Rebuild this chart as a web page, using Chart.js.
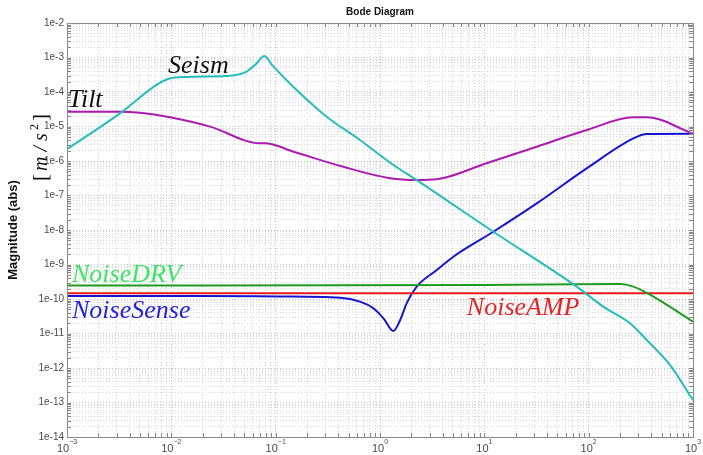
<!DOCTYPE html>
<html>
<head>
<meta charset="utf-8">
<script src="https://cdn.jsdelivr.net/npm/chart.js@4.4.0/dist/chart.umd.min.js"></script>
<style>
html, body { margin: 0; padding: 0; background: #fff; }
</style>
</head>
<body>
<canvas id="chartBode" width="703" height="455"></canvas>
<script>
// values (Hz, m/s^2)
const seismFreq = [1e-3, 3.22e-3, 7.8e-3, 1.04e-2, 3.4e-2, 5.27e-2, 6.58e-2, 7.78e-2, 9.3e-2, 0.148, 0.308, 0.643, 1.25, 2.25, 12.2, 76.7, 138, 249, 360, 601, 1000];
const seismMag = [2.2e-6, 2.4e-5, 1.86e-4, 2.6e-4, 2.9e-4, 3.9e-4, 6.8e-4, 1.1e-3, 5.9e-4, 1.4e-4, 1.92e-5, 4.06e-6, 8.9e-7, 2.8e-7, 8.9e-9, 2.28e-10, 6.0e-11, 1.98e-11, 6.5e-12, 1.23e-12, 1.17e-13];

const tiltFreq = [1e-3, 3.22e-3, 5e-3, 9.7e-3, 2.35e-2, 7.08e-2, 7.9e-2, 0.148, 0.445, 1.25, 2.25, 3.5, 10.5, 31.8, 95.7, 268, 360, 1000];
const tiltMag = [2.69e-5, 2.69e-5, 2.5e-5, 1.85e-5, 9.9e-6, 3.26e-6, 3.26e-6, 1.86e-6, 6.8e-7, 3.16e-7, 2.81e-7, 2.95e-7, 8.6e-7, 2.6e-6, 7.9e-6, 1.85e-5, 1.85e-5, 6.2e-6];

const senseFreq = [1e-3, 1.88e-2, 0.110, 0.414, 0.643, 0.863, 1.08, 1.34, 1.56, 1.80, 2.25, 3.5, 5.05, 12.2, 31.8, 95.7, 268, 360, 1000];
const senseMag = [1.22e-10, 1.22e-10, 1.18e-10, 1.09e-10, 8.4e-11, 5.4e-11, 2.76e-11, 1.18e-11, 2.46e-11, 7.5e-11, 2.28e-10, 6.9e-10, 1.68e-9, 8.9e-9, 5.9e-8, 6.1e-7, 4.5e-6, 6.1e-6, 6.2e-6];

const drvFreq = [1e-3, 10, 200, 268, 417, 1000];
const drvMag = [2.45e-10, 2.55e-10, 2.7e-10, 2.28e-10, 1.17e-10, 2.2e-11];

const ampFreq = [1e-3, 1000];
const ampMag = [1.46e-10, 1.46e-10];

const noteText = ['Seism', 'Tilt', 'NoiseDRV', 'NoiseSense', 'NoiseAMP'];
const noteX = [9.3e-3, 1.02e-3, 1.117e-3, 1.117e-3, 6.8];
const noteY = [3.56e-4, 3.75e-5, 3.05e-10, 2.75e-11, 3.44e-11];
const noteColor = ['#111111', '#111111', '#3ee466', '#2323dc', '#e02626'];

function toPoints(xs, ys) {
    return xs.map((x, i) => ({x: x, y: ys[i]}));
}

function logTicks(minExp, maxExp) {
    let ticks = [];
    for (let e = minExp; e < maxExp; e++) {
        for (let m = 1; m < 10; m++) {
            ticks.push({value: m * Math.pow(10, e), major: m === 1});
        }
    }
    ticks.push({value: Math.pow(10, maxExp), major: true});
    return ticks;
}

function gridColor(ctx) {
    return ctx.tick && ctx.tick.major ? '#c4c4c4' : '#d8d8d8';
}

const extras = {
    id: 'extras',
    afterDraw(chart) {
        const ctx = chart.ctx;
        const area = chart.chartArea;
        const xs = chart.scales.x;
        const ys = chart.scales.y;

        // inner tick marks
        ctx.save();
        ctx.strokeStyle = '#888';
        ctx.lineWidth = 1;
        ctx.beginPath();
        xs.ticks.forEach(t => {
            let px = Math.round(xs.getPixelForValue(t.value)) + 0.5;
            ctx.moveTo(px, area.bottom);
            ctx.lineTo(px, area.bottom - 4);
            ctx.moveTo(px, area.top);
            ctx.lineTo(px, area.top + 4);
        });
        ys.ticks.forEach(t => {
            let py = Math.round(ys.getPixelForValue(t.value)) + 0.5;
            ctx.moveTo(area.left, py);
            ctx.lineTo(area.left + 4, py);
            ctx.moveTo(area.right, py);
            ctx.lineTo(area.right - 4, py);
        });
        ctx.stroke();

        // box
        ctx.strokeStyle = '#8a8a8a';
        ctx.strokeRect(Math.round(area.left) + 0.5, Math.round(area.top) + 0.5,
            Math.round(area.right - area.left), Math.round(area.bottom - area.top));

        // x tick labels 10^n
        ctx.fillStyle = '#4a4a4a';
        ctx.textBaseline = 'alphabetic';
        xs.ticks.filter(t => t.major).forEach(t => {
            let px = xs.getPixelForValue(t.value);
            let ex = String(Math.round(Math.log10(t.value))).replace('-', '\u2212');
            ctx.font = '11px "Liberation Sans", Arial, sans-serif';
            let w1 = ctx.measureText('10').width;
            ctx.font = '7px "Liberation Sans", Arial, sans-serif';
            let w2 = ctx.measureText(ex).width;
            let x0 = px - (w1 + w2) / 2;
            ctx.font = '11px "Liberation Sans", Arial, sans-serif';
            ctx.textAlign = 'left';
            ctx.fillText('10', x0, 452);
            ctx.font = '7px "Liberation Sans", Arial, sans-serif';
            ctx.fillText(ex, x0 + w1, 444);
        });

        // title
        ctx.fillStyle = '#111';
        ctx.font = 'bold 10px "Liberation Sans", Arial, sans-serif';
        ctx.textAlign = 'center';
        ctx.fillText('Bode Diagram', (area.left + area.right) / 2, 15);

        // y axis titles
        ctx.save();
        ctx.translate(17, (area.top + area.bottom) / 2);
        ctx.rotate(-Math.PI / 2);
        ctx.font = 'bold 13px "Liberation Sans", Arial, sans-serif';
        ctx.fillText('Magnitude (abs)', 0, 0);
        ctx.restore();

        ctx.save();
        ctx.translate(47, 146);
        ctx.rotate(-Math.PI / 2);
        const parts = [
            ['[', '21px "Liberation Serif", serif', 0],
            ['m / s', 'italic 20px "Liberation Serif", serif', 0],
            ['2', '12px "Liberation Serif", serif', -9],
            [']', '21px "Liberation Serif", serif', 0]
        ];
        let total = 0;
        parts.forEach(p => { ctx.font = p[1]; total += ctx.measureText(p[0]).width + 3; });
        let cx = -total / 2;
        ctx.textAlign = 'left';
        parts.forEach(p => {
            ctx.font = p[1];
            ctx.fillText(p[0], cx, p[2]);
            cx += ctx.measureText(p[0]).width + 3;
        });
        ctx.restore();

        // curve names
        ctx.font = 'italic 26px "Liberation Serif", "Times New Roman", serif';
        ctx.textAlign = 'left';
        for (let i = 0; i < noteText.length; i++) {
            ctx.fillStyle = noteColor[i];
            ctx.fillText(noteText[i], xs.getPixelForValue(noteX[i]), ys.getPixelForValue(noteY[i]));
        }
        ctx.restore();
    }
};

function initBode() {
    let canvas = document.getElementById('chartBode');
    let lineStyle = {borderWidth: 2, pointRadius: 0, fill: false, cubicInterpolationMode: 'monotone'};

    new Chart(canvas, {
        type: 'line',
        data: {
            datasets: [
                Object.assign({label: 'Seism', data: toPoints(seismFreq, seismMag), borderColor: '#27bcbc'}, lineStyle),
                Object.assign({label: 'Tilt', data: toPoints(tiltFreq, tiltMag), borderColor: '#ab1bb0'}, lineStyle),
                Object.assign({label: 'NoiseDRV', data: toPoints(drvFreq, drvMag), borderColor: '#1f991f'}, lineStyle),
                Object.assign({label: 'NoiseAMP', data: toPoints(ampFreq, ampMag), borderColor: '#e61a1a'}, lineStyle),
                Object.assign({label: 'NoiseSense', data: toPoints(senseFreq, senseMag), borderColor: '#1515d0'}, lineStyle)
            ]
        },
        options: {
            responsive: false,
            devicePixelRatio: 1,
            animation: false,
            layout: {padding: {top: 23, right: 10, left: 0, bottom: 0}},
            plugins: {legend: {display: false}, tooltip: {enabled: false}},
            scales: {
                x: {
                    type: 'logarithmic',
                    min: 1e-3,
                    max: 1e3,
                    afterBuildTicks: s => { s.ticks = logTicks(-3, 3); },
                    afterFit: s => { s.height = 18; },
                    ticks: {display: false, autoSkip: false},
                    grid: {color: gridColor, lineWidth: 1, drawTicks: false},
                    border: {display: false, dash: [1, 2]}
                },
                y: {
                    type: 'logarithmic',
                    min: 1e-14,
                    max: 1e-2,
                    afterBuildTicks: s => { s.ticks = logTicks(-14, -2); },
                    afterFit: s => { s.width = 67; },
                    ticks: {
                        autoSkip: false,
                        padding: 3,
                        color: '#4a4a4a',
                        font: {family: '"Liberation Sans", Arial, sans-serif', size: 10},
                        callback: function (value) {
                            let e = Math.log10(value);
                            if (Math.abs(e - Math.round(e)) < 1e-6) {
                                return '1e' + Math.round(e);
                            }
                            return '';
                        }
                    },
                    grid: {color: gridColor, lineWidth: 1, drawTicks: false},
                    border: {display: false, dash: [1, 2]}
                }
            }
        },
        plugins: [extras]
    });
}

window.addEventListener('load', initBode);
</script>
</body>
</html>
